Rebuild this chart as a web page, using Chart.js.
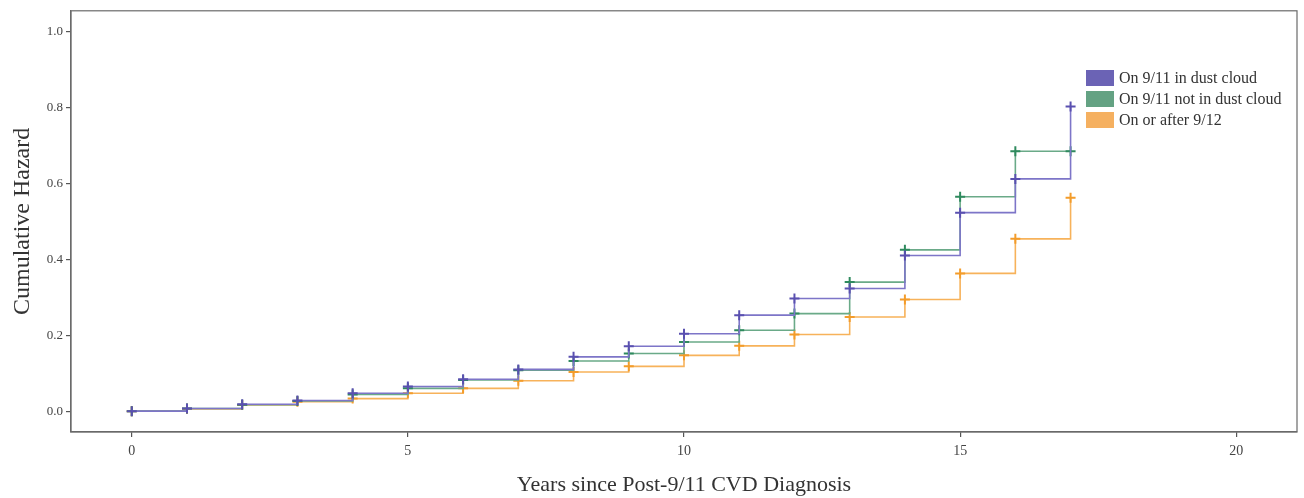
<!DOCTYPE html>
<html>
<head>
<meta charset="utf-8">
<script src="https://cdn.jsdelivr.net/npm/chart.js@4/dist/chart.umd.min.js"></script>
<style>
  html, body { margin: 0; padding: 0; background: #fff; }
  #wrap { width: 1304px; height: 498px; }
</style>
</head>
<body>
<div id="wrap"><canvas id="chart" width="1304" height="498"></canvas></div>
<script>
// years since diagnosis (event / censor marks)
const years = [0, 1, 2, 3, 4, 5, 6, 7, 8, 9, 10, 11, 12, 13, 14, 15, 16, 17];

// cumulative hazard per group
const dustCloud = [0, 0.007, 0.018, 0.028, 0.047, 0.065, 0.084, 0.11, 0.143, 0.171, 0.204, 0.253, 0.297, 0.323, 0.41, 0.523, 0.612, 0.803];
const notInDust = [0, 0.007, 0.017, 0.027, 0.044, 0.06, 0.082, 0.108, 0.132, 0.152, 0.182, 0.213, 0.257, 0.34, 0.425, 0.565, 0.685, 0.685];
const after912 = [0, 0.006, 0.016, 0.025, 0.033, 0.047, 0.06, 0.08, 0.103, 0.118, 0.147, 0.172, 0.202, 0.248, 0.294, 0.363, 0.454, 0.562];

const groupLabels = ['On 9/11 in dust cloud', 'On 9/11 not in dust cloud', 'On or after 9/12'];
const xTicks = [0, 5, 10, 15, 20];
const yTicks = [0, 0.2, 0.4, 0.6, 0.8, 1.0];

const serif = '"Liberation Serif", "DejaVu Serif", serif';
const toPoints = vals => years.map((x, i) => ({ x: x, y: vals[i] }));

// box around the plot + legend inside the plot area
const frameAndLegend = {
  id: 'frameAndLegend',
  afterDraw(chart) {
    const ctx = chart.ctx;
    const a = chart.chartArea;
    ctx.save();
    ctx.strokeStyle = '#6a6a6a';
    ctx.lineWidth = 1.2;
    ctx.strokeRect(a.left, a.top, a.right - a.left, a.bottom - a.top);

    ctx.font = '16px ' + serif;
    ctx.textBaseline = 'middle';
    chart.data.datasets.forEach((ds, i) => {
      const y = 78 + i * 21;
      ctx.fillStyle = ds.legendColor;
      ctx.fillRect(1086, y - 8, 28, 16);
      ctx.fillStyle = '#333';
      ctx.fillText(ds.label, 1119, y + 1);
    });
    ctx.restore();
  }
};

new Chart(document.getElementById('chart'), {
  type: 'line',
  data: {
    datasets: [
      {
        label: groupLabels[0],
        data: toPoints(dustCloud),
        borderColor: '#7d75c8',
        pointBorderColor: '#5a50b0',
        legendColor: '#6b63b5',
      },
      {
        label: groupLabels[1],
        data: toPoints(notInDust),
        borderColor: '#6aaa88',
        pointBorderColor: '#2f8a5e',
        legendColor: '#64a283',
      },
      {
        label: groupLabels[2],
        data: toPoints(after912),
        borderColor: '#f7b25a',
        pointBorderColor: '#f39c2a',
        legendColor: '#f5b060',
      },
    ].map(ds => Object.assign(ds, {
      stepped: 'before',
      borderWidth: 1.6,
      fill: false,
      pointStyle: 'cross',
      pointRadius: 5,
      pointBorderWidth: 2,
      pointHoverRadius: 5,
    })),
  },
  options: {
    responsive: false,
    animation: false,
    layout: { padding: { top: 10, right: 4, left: 0, bottom: 0 } },
    plugins: {
      legend: { display: false },
      tooltip: { enabled: false },
    },
    scales: {
      x: {
        type: 'linear',
        min: -1.1,
        max: 21.1,
        afterBuildTicks: s => { s.ticks = xTicks.map(v => ({ value: v })); },
        afterFit: s => { s.height = 66; },
        grid: { drawOnChartArea: false, drawTicks: true, tickLength: 5, color: '#555', lineWidth: 1.2 },
        border: { display: true, color: '#6a6a6a', width: 1.2 },
        ticks: { font: { family: serif, size: 14 }, color: '#444', padding: 6, maxRotation: 0 },
        title: {
          display: true,
          text: 'Years since Post-9/11 CVD Diagnosis',
          font: { family: serif, size: 22 },
          color: '#333',
          padding: { top: 12, bottom: 0 },
        },
      },
      y: {
        type: 'linear',
        min: -0.055,
        max: 1.055,
        afterBuildTicks: s => { s.ticks = yTicks.map(v => ({ value: v })); },
        afterFit: s => { s.width = 71; },
        grid: { drawOnChartArea: false, drawTicks: true, tickLength: 5, color: '#555', lineWidth: 1.2 },
        border: { display: true, color: '#6a6a6a', width: 1.2 },
        ticks: { font: { family: serif, size: 13 }, color: '#444', padding: 3, callback: v => v.toFixed(1) },
        title: {
          display: true,
          text: 'Cumulative Hazard',
          font: { family: serif, size: 24 },
          color: '#333',
          padding: { top: 8, bottom: 4 },
        },
      },
    },
  },
  plugins: [frameAndLegend],
});
</script>
</body>
</html>
